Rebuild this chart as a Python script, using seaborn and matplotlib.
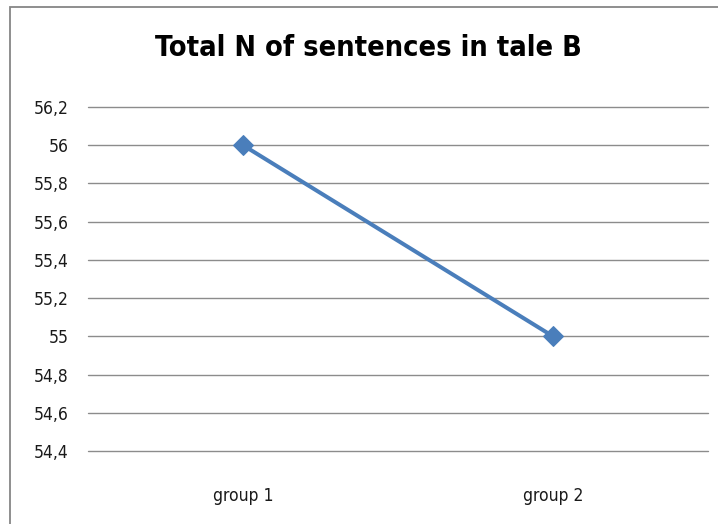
import matplotlib
matplotlib.use("Agg")
import matplotlib.pyplot as plt
import matplotlib.patches as patches
import seaborn as sns
import pandas as pd

groups = ["group 1", "group 2"]
sentences = [56, 55]
y_ticks = [54.4, 54.6, 54.8, 55.0, 55.2, 55.4, 55.6, 55.8, 56.0, 56.2]

sns.set_style("white")
plt.rcParams["font.family"] = ["DejaVu Sans"]
plt.rcParams["font.stretch"] = "condensed"
plt.rcParams["text.color"] = "#1a1a1a"
plt.rcParams["xtick.color"] = "#1a1a1a"
plt.rcParams["ytick.color"] = "#1a1a1a"

df = pd.DataFrame({"group": groups, "n": sentences})

fig = plt.figure(figsize=(7.18, 5.24), dpi=100)
ax = fig.add_axes([0.1226, 0.1393, 0.8635, 0.6565])

sns.lineplot(data=df, x="group", y="n", ax=ax, color="#4a7ebb",
             linewidth=2.9, marker="D", markersize=10, markeredgecolor="#4a7ebb")

ax.set_ylim(54.4, 56.2)
ax.set_xlim(-0.5, 1.5)
ax.set_yticks(y_ticks)
ax.set_yticklabels([f"{v:g}".replace(".", ",") for v in y_ticks], fontsize=12.5)
ax.tick_params(axis="x", labelsize=12.5, pad=26, length=0)
ax.tick_params(axis="y", pad=14, length=0)
ax.grid(axis="y", color="#8c8c8c", linewidth=1)
for gl in ax.get_ygridlines():
    gl.set_clip_on(False)
ax.set_axisbelow(True)
for s in ax.spines.values():
    s.set_visible(False)
ax.set_xlabel("")
ax.set_ylabel("")

fig.text(0.513, 0.908, "Total N of sentences in tale B", ha="center", va="center",
         fontsize=20.7, fontweight="bold", color="black")

# outer chart frame
fig.patches.append(patches.Rectangle((10 / 718, -0.05), 1.2, 1 - 7 / 524 + 0.05,
                                     transform=fig.transFigure, fill=False,
                                     edgecolor="#868686", linewidth=1.3))

plt.savefig("out.png", dpi=100)
plt.close()
